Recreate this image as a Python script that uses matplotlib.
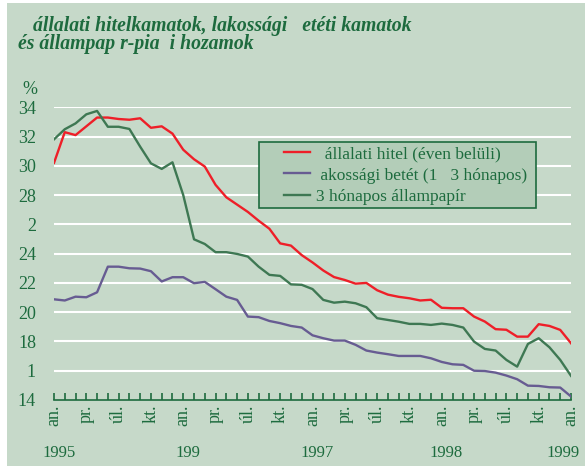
import matplotlib
matplotlib.use('Agg')
import matplotlib.pyplot as plt
from matplotlib.patches import Rectangle

# havi adatok, 1995 jan - 1999 jan
hitel = [30.2, 32.3, 32.1, 32.7, 33.3, 33.3, 33.2, 33.15, 33.25, 32.6, 32.7, 32.2,
         31.1, 30.45, 29.95, 28.7, 27.85, 27.35, 26.85, 26.25, 25.7, 24.7, 24.55, 23.9,
         23.4, 22.85, 22.4, 22.2, 21.95, 22.0, 21.5, 21.2, 21.05, 20.95, 20.8, 20.85,
         20.3, 20.27, 20.27, 19.7, 19.36, 18.84, 18.8, 18.33, 18.33, 19.18, 19.06, 18.79,
         17.88]
betet = [20.88, 20.8, 21.06, 21.02, 21.36, 23.11, 23.11, 23.0, 22.98, 22.8, 22.1, 22.39,
         22.39, 21.98, 22.07, 21.57, 21.06, 20.84, 19.7, 19.66, 19.4, 19.25, 19.06, 18.95,
         18.42, 18.22, 18.06, 18.06, 17.77, 17.38, 17.24, 17.13, 17.01, 17.01, 17.01, 16.85,
         16.6, 16.44, 16.4, 16.0, 15.98, 15.87, 15.67, 15.42, 14.98, 14.96, 14.87, 14.85,
         14.24]
allampapir = [31.81, 32.5, 32.9, 33.52, 33.75, 32.67, 32.67, 32.52, 31.31, 30.17, 29.79, 30.24,
              28.0, 24.98, 24.66, 24.1, 24.1, 23.98, 23.8, 23.11, 22.55, 22.48, 21.9, 21.87,
              21.58, 20.84, 20.65, 20.72, 20.61, 20.34, 19.59, 19.47, 19.35, 19.2, 19.2, 19.13,
              19.22, 19.13, 18.95, 17.99, 17.49, 17.38, 16.74, 16.28, 17.83, 18.22, 17.6, 16.74,
              15.65]

honap_cimkek = ['an.', 'pr.', 'úl.', 'kt.']
evek = ['1995', '199', '1997', '1998', '1999']
y_ticks = [14, 16, 18, 20, 22, 24, 26, 28, 30, 32, 34]
y_cimkek = ['14', '1', '18', '20', '22', '24', '2', '28', '30', '32', '34']
nevek = ['  állalati hitel (éven belüli)',
         ' akossági betét (1   3 hónapos)',
         '3 hónapos állampapír']

plt.rcParams['font.family'] = ['Liberation Serif', 'DejaVu Serif']
zold = '#1d6b3e'
hatter = '#c6d9c9'

fig = plt.figure(figsize=(5.85, 4.66), dpi=100, facecolor='white')
fig.patches.append(Rectangle((7 / 585, 0), 1, 1 - 3 / 466, transform=fig.transFigure,
                             facecolor=hatter, edgecolor='none', zorder=-10))

ax = fig.add_axes([54 / 585, 66 / 466, 517 / 585, 292.7 / 466])
ax.set_facecolor('none')

x = list(range(len(hitel)))
ax.plot(x, hitel, color='#ee1f28', lw=1.7, label=nevek[0], zorder=3)
ax.plot(x, betet, color='#675c92', lw=1.7, label=nevek[1], zorder=3)
ax.plot(x, allampapir, color='#3e7853', lw=1.7, label=nevek[2], zorder=3)

ax.set_xlim(0, 48)
ax.set_ylim(14, 34)
for v in y_ticks[1:]:
    ax.axhline(v, color='white', lw=1.5, zorder=1)

for s in ['top', 'right', 'left']:
    ax.spines[s].set_visible(False)
ax.spines['bottom'].set_color(zold)
ax.spines['bottom'].set_linewidth(1.2)

ax.set_yticks(y_ticks)
ax.set_yticklabels(y_cimkek, fontsize=13, color=zold)
ax.tick_params(axis='y', length=0, pad=13)

ax.set_xticks(x)
ax.set_xticklabels([honap_cimkek[(i // 3) % 4] if i % 3 == 0 else '' for i in x],
                   rotation=90, fontsize=13, color=zold)
ax.tick_params(axis='x', direction='in', length=5, width=1.2, color=zold, pad=3)

year_pos = [0.45, 12.45, 24.45, 36.45, 47.3]
for p, ev in zip(year_pos, evek):
    ax.text(p, -0.18, ev, transform=ax.get_xaxis_transform(), ha='center', va='center',
            fontsize=12, color=zold)

fig.text(30 / 585, 1 - 89 / 466, '%', fontsize=13, color=zold, ha='center', va='center')

fig.text(33 / 585, 1 - 31 / 466, 'állalati hitelkamatok, lakossági   etéti kamatok',
         fontsize=14.2, fontweight='bold', fontstyle='italic', color=zold, va='baseline')
fig.text(18 / 585, 1 - 49 / 466, 'és állampap r-pia  i hozamok',
         fontsize=14.2, fontweight='bold', fontstyle='italic', color=zold, va='baseline')

# jelmagyarazat keret kulon rajzolva
keret = Rectangle((259 / 585, 1 - 207.7 / 466), 277 / 585, 66 / 466,
                  transform=fig.transFigure, facecolor='#b3cdb8',
                  edgecolor=zold, lw=1.2, zorder=5, clip_on=False)
ax.add_patch(keret)
leg = ax.legend(loc='upper left', bbox_to_anchor=(284 / 585, 1 - 146 / 466),
                bbox_transform=fig.transFigure, fontsize=12.5, frameon=False,
                handlelength=1.5, handletextpad=0.35, labelspacing=0.3,
                borderpad=0, borderaxespad=0)
leg.set_zorder(6)
for t in leg.get_texts():
    t.set_color(zold)

fig.savefig('out.png', dpi=100, facecolor=fig.get_facecolor())
